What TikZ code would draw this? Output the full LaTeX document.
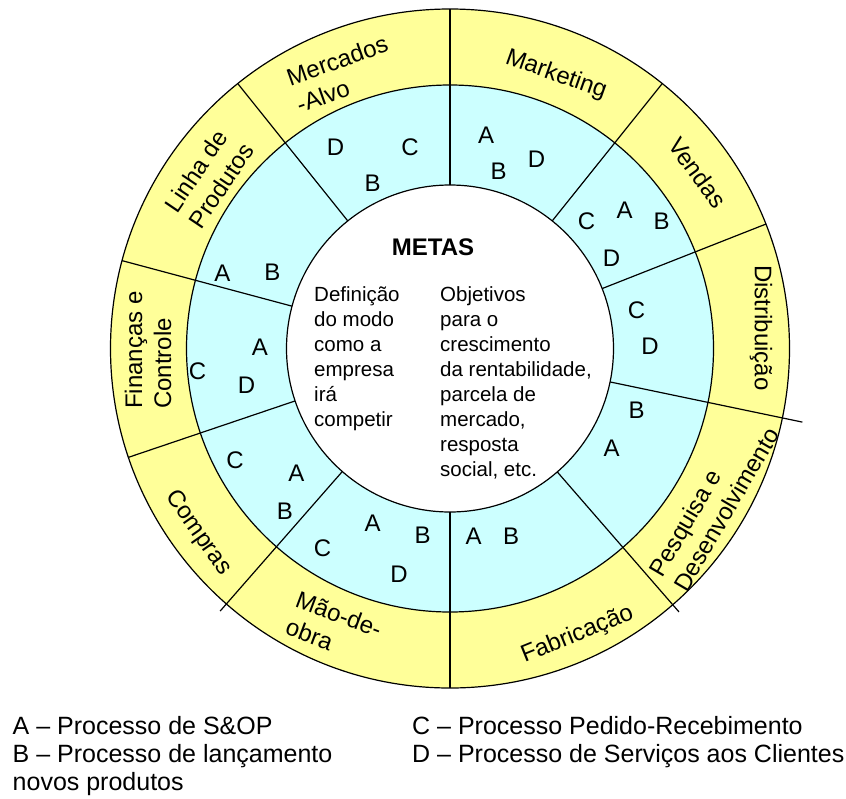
\documentclass[tikz,border=0pt]{standalone}
\usepackage{fontspec}
\setmainfont{Liberation Sans}
\usetikzlibrary{calc}
\definecolor{ringyellow}{RGB}{255,255,153}
\definecolor{ringcyan}{RGB}{204,255,255}
\newcommand{\textrows}[1]{\begin{tabular}[t]{@{}l@{}}#1\end{tabular}}
\begin{document}
\begin{tikzpicture}[x=1pt,y=-1pt,
  ring/.style={font=\fontsize{24}{29}\selectfont, align=left, inner sep=0pt},
  proc/.style={font=\fontsize{24}{29}\selectfont, inner sep=0pt},
  goal/.style={font=\fontsize{20.5}{25}\selectfont, inner sep=0pt, anchor=base west},
  key/.style={font=\fontsize{25}{28}\selectfont, inner sep=0pt, anchor=base west},
  edge/.style={line width=1.2pt}]
\useasboundingbox (0,0) rectangle (846,798);
\coordinate (c) at (450,348.5);

% rings: functional areas (yellow), processes (cyan), goals (white)
\fill[ringyellow] (c) circle[radius=339.5];
\fill[ringcyan] (c) circle[radius=263.5];
\fill[white] (c) circle[radius=163.5];
\draw[edge] (c) circle[radius=339.5];
\draw[edge] (c) circle[radius=263.5];
\draw[edge] (c) circle[radius=163.5];

% sector borders (angles measured clockwise from east, y axis points down)
\foreach \a/\r in {-90/339.5, -51.3/339.5, -21.5/339.5, 11.8/360, 49/349,
                   90/339.5, 131.2/349, 161.3/339.5, -165/339.5, -128.7/339.5}
  \draw[edge] ($(c)+(\a:163.5)$) -- ($(c)+(\a:\r)$);

% functional areas
\node[ring, rotate=19.5] (mercados) at (342,74) {Mercados\\-Alvo};
\node[ring, rotate=-19.5] (marketing) at (556,75) {Marketing};
\node[ring, rotate=-54] (vendas) at (697.5,172.5) {Vendas};
\node[ring, rotate=-90] (distribuicao) at (761,328) {Distribuição};
\node[ring, rotate=59.5] (pesquisa) at (714,502) {Pesquisa e\\Desenvolvimento};
\node[ring, rotate=22] (fabricacao) at (577.5,635) {Fabricação};
\node[ring, rotate=-20.5] (maodeobra) at (334,628) {Mão-de-\\obra};
\node[ring, rotate=-55] (compras) at (198,533) {Compras};
\node[ring, rotate=90] (financas) at (148,350) {Finanças e\\Controle};
\node[ring, rotate=56] (linha) at (209,177.5) {Linha de\\Produtos};

% processes in each area
\node[proc] (merD) at (335.5,147) {D};
\node[proc] (merC) at (410,147) {C};
\node[proc] (merB) at (372.5,183.5) {B};
\node[proc] (mktA) at (486,135) {A};
\node[proc] (mktB) at (498.5,171.5) {B};
\node[proc] (mktD) at (536.5,159.5) {D};
\node[proc] (venC) at (586.5,221.5) {C};
\node[proc] (venA) at (624.5,210) {A};
\node[proc] (venB) at (661.5,221.5) {B};
\node[proc] (venD) at (611.5,258.5) {D};
\node[proc] (disC) at (636.5,310) {C};
\node[proc] (disD) at (650,346.5) {D};
\node[proc] (pedB) at (636.5,410) {B};
\node[proc] (pedA) at (611.5,448.5) {A};
\node[proc] (fabA) at (473.5,536.5) {A};
\node[proc] (fabB) at (511,536.5) {B};
\node[proc] (maoA) at (372.5,523.5) {A};
\node[proc] (maoB) at (422.5,535.5) {B};
\node[proc] (maoC) at (322.5,548.5) {C};
\node[proc] (maoD) at (399,574) {D};
\node[proc] (comC) at (235,460) {C};
\node[proc] (comA) at (296.5,473.5) {A};
\node[proc] (comB) at (285,511.5) {B};
\node[proc] (finA) at (260,347.5) {A};
\node[proc] (finC) at (197.5,371.5) {C};
\node[proc] (finD) at (246.5,385) {D};
\node[proc] (linA) at (222.5,273.5) {A};
\node[proc] (linB) at (272.5,272.5) {B};

% goals
\node[font=\bfseries\fontsize{24}{29}\selectfont, inner sep=0pt, anchor=base]
  (metas) at (433,255) {METAS};
\node[goal] (modo) at (314,301.7)
  {\textrows{Definição\\do modo\\como a\\empresa\\irá\\competir}};
\node[goal] (objetivos) at (440,301.7)
  {\textrows{Objetivos\\para o\\crescimento\\da rentabilidade,\\parcela de\\mercado,\\resposta\\social, etc.}};

% key
\node[key] (keyAB) at (12.5,734)
  {\textrows{A – Processo de S\&OP\\B – Processo de lançamento\\novos produtos}};
\node[key] (keyCD) at (412,734)
  {\textrows{C – Processo Pedido-Recebimento\\D – Processo de Serviços aos Clientes}};
\end{tikzpicture}
\end{document}
